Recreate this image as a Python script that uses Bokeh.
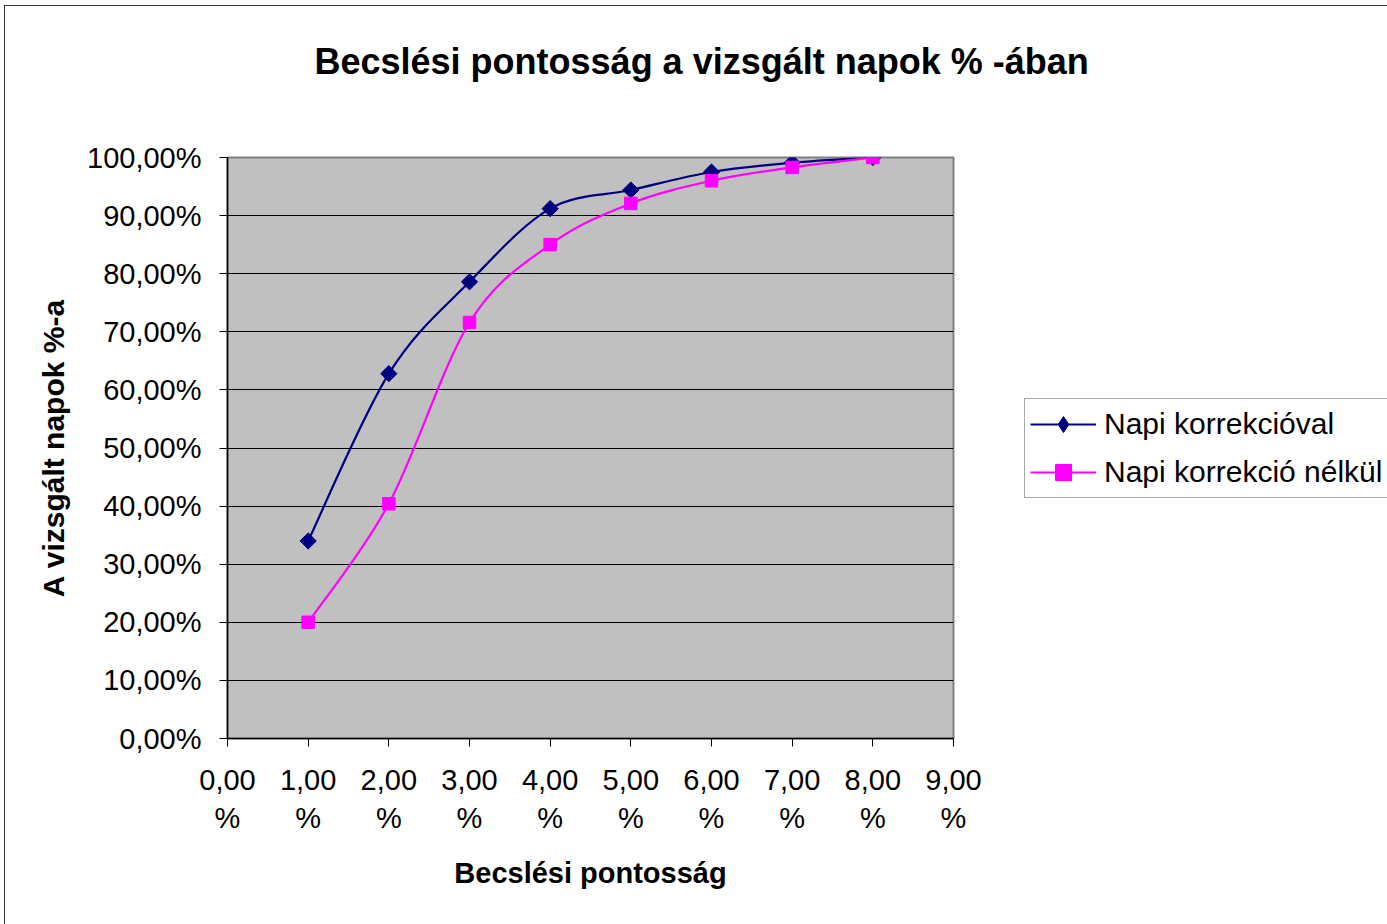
import numpy as np
from bokeh.plotting import figure
from bokeh.models import Legend, LegendItem, FixedTicker, Range1d
from bokeh.embed import file_html
from bokeh.resources import INLINE

# ---- data ----
accuracy = [1, 2, 3, 4, 5, 6, 7, 8]                      # Becslési pontosság (%)
with_correction = [34.0, 62.8, 78.6, 91.2, 94.4, 97.5, 99.1, 100.0]     # Napi korrekcióval
without_correction = [20.0, 40.4, 71.6, 85.0, 92.1, 96.0, 98.3, 100.0]  # Napi korrekció nélkül
series_names = ["Napi korrekcióval", "Napi korrekció nélkül"]
title_text = "Becslési pontosság a vizsgált napok % -ában"
x_ticks = [0, 1, 2, 3, 4, 5, 6, 7, 8, 9]
x_tick_labels = ["0,00\n%", "1,00\n%", "2,00\n%", "3,00\n%", "4,00\n%",
                 "5,00\n%", "6,00\n%", "7,00\n%", "8,00\n%", "9,00\n%"]
y_ticks = [0, 10, 20, 30, 40, 50, 60, 70, 80, 90, 100]
y_tick_labels = ["0,00%", "10,00%", "20,00%", "30,00%", "40,00%", "50,00%",
                 "60,00%", "70,00%", "80,00%", "90,00%", "100,00%"]

FONT = "Liberation Sans"


def smooth_segments(x, y):
    """Bezier control points for a smoothed (Catmull-Rom style) line through the data."""
    x = np.asarray(x, float)
    y = np.asarray(y, float)
    xp = np.concatenate([[x[0]], x, [x[-1]]])
    yp = np.concatenate([[y[0]], y, [y[-1]]])
    n = len(x)
    i = np.arange(n - 1)
    return dict(
        x0=xp[i + 1], y0=yp[i + 1], x1=xp[i + 2], y1=yp[i + 2],
        cx0=xp[i + 1] + (xp[i + 2] - xp[i]) / 6.0,
        cy0=yp[i + 1] + (yp[i + 2] - yp[i]) / 6.0,
        cx1=xp[i + 2] - (xp[i + 3] - xp[i + 1]) / 6.0,
        cy1=yp[i + 2] - (yp[i + 3] - yp[i + 1]) / 6.0,
    )


p = figure(
    width=1387, height=924,
    frame_width=726, frame_height=581,
    min_border_left=227, min_border_top=157, min_border_bottom=186, min_border_right=434,
    x_range=Range1d(0, 9), y_range=Range1d(0, 100),
    output_backend="svg", toolbar_location=None,
    background_fill_color="#C0C0C0", border_fill_color=None,
    title=title_text + "\n ",
    styles={"background-color": "white",
            "box-shadow": "inset 4px 5px 0 0 white, inset 5px 6px 0 0 #333333"},
)

# title (second, blank line keeps it higher above the plot area)
p.title.text_font = FONT
p.title.text_font_size = "36px"
p.title.text_font_style = "bold"
p.title.text_color = "black"
p.title.align = "left"
p.title.offset = 87
p.title.standoff = 69

# outline / grid
p.outline_line_color = "#808080"
p.outline_line_width = 2
p.xgrid.grid_line_color = None
p.ygrid.grid_line_color = "black"
p.ygrid.grid_line_width = 1
p.ygrid.ticker = FixedTicker(ticks=y_ticks)

# axes
for ax in (p.xaxis[0], p.yaxis[0]):
    ax.axis_line_color = "black"
    ax.axis_line_width = 1.5
    ax.major_tick_line_color = "black"
    ax.major_tick_in = 0
    ax.major_tick_out = 8
    ax.minor_tick_line_color = None
    ax.major_label_text_font = FONT
    ax.major_label_text_font_size = "29px"
    ax.major_label_text_color = "black"
    ax.axis_label_text_font = FONT
    ax.axis_label_text_font_style = "bold"
    ax.axis_label_text_color = "black"

p.xaxis.ticker = FixedTicker(ticks=x_ticks)
p.xaxis.major_label_overrides = {t: l for t, l in zip(x_ticks, x_tick_labels)}
p.xaxis.major_label_text_line_height = 1.2
p.xaxis.major_label_standoff = 17
p.xaxis.axis_label = "Becslési pontosság"
p.xaxis.axis_label_text_font_size = "29px"
p.xaxis.axis_label_standoff = 20

p.yaxis.ticker = FixedTicker(ticks=y_ticks)
p.yaxis.major_label_overrides = {t: l for t, l in zip(y_ticks, y_tick_labels)}
p.yaxis.major_label_standoff = 18
p.yaxis.axis_label = "A vizsgált napok %-a"
p.yaxis.axis_label_text_font_size = "30px"
p.yaxis.axis_label_standoff = 14

# series 1
navy = "#000080"
magenta = "#FF00FF"
s1 = smooth_segments(accuracy, with_correction)
p.bezier(**s1, line_color=navy, line_width=2.2)
p.scatter(accuracy, with_correction, marker="square", angle=np.pi / 4, size=11.5,
          fill_color=navy, line_color=navy)
# series 2
s2 = smooth_segments(accuracy, without_correction)
p.bezier(**s2, line_color=magenta, line_width=2.2)
p.scatter(accuracy, without_correction, marker="square", size=12.5,
          fill_color=magenta, line_color=magenta)

# legend proxies (not visible in the plot: NaN coordinates)
nan = [np.nan]
l1 = p.line(nan, nan, line_color=navy, line_width=2)
k1 = p.scatter(nan, nan, marker="diamond", size=17, fill_color=navy, line_color=navy)
l2 = p.line(nan, nan, line_color=magenta, line_width=2)
k2 = p.scatter(nan, nan, marker="square", size=12, fill_color=magenta, line_color=magenta)

legend = Legend(
    items=[LegendItem(label=series_names[0], renderers=[l1, k1]),
           LegendItem(label=series_names[1], renderers=[l2, k2])],
    location="center_left",
    margin=71, padding=5, spacing=8,
    glyph_width=66, glyph_height=40, label_height=40, label_standoff=8,
    label_text_font=FONT, label_text_font_size="30px", label_text_color="black",
    border_line_color="#555555", border_line_width=1,
    background_fill_color="white",
)
p.add_layout(legend, "right")

open("out.html", "w").write(file_html(p, INLINE))
